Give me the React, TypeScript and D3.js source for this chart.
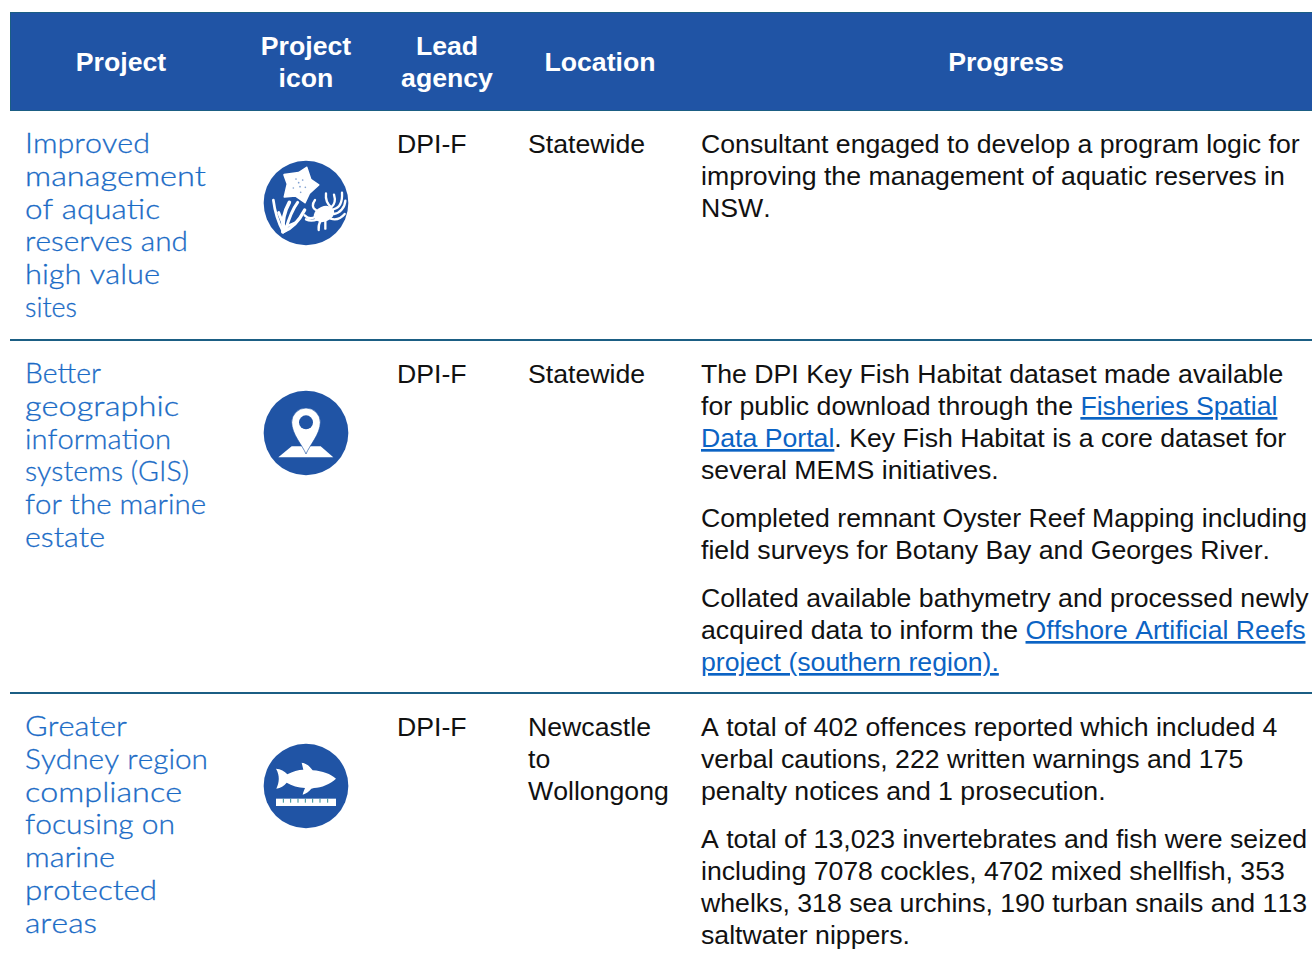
import React, { useEffect, useRef } from "react";
import { select, scaleLinear, scaleOrdinal } from "d3";

const BLUE = "#2054a5";
const TEAL = "#1b5e84";
const LINK = "#0b63c4";
const NAME = "#1a6bc6";
const INK = "#111111";

const columns = ["project", "icon", "lead", "location", "progress"];
const headerCentres = [121, 306, 447, 600, 1006];
const headerLabels = [["Project"], ["Project", "icon"], ["Lead", "agency"], ["Location"], ["Progress"]];

const rowTops = [153, 383, 736];
const rowRules = [340, 693];
const iconCentres = [203, 433, 786];
const iconKinds = ["reef", "pin", "fish"];

const projects = [
  ["Improved", "management", "of aquatic", "reserves and", "high value", "sites"],
  ["Better", "geographic", "information", "systems (GIS)", "for the marine", "estate"],
  ["Greater", "Sydney region", "compliance", "focusing on", "marine", "protected", "areas"],
];
// measured width of each name line, the installed face is narrower than the original
const projectWidths = [
  [125, 181, 135, 163, 135, 52],
  [76, 154, 146, 164, 181, 80],
  [102, 183, 157, 150, 90, 132, 72],
];
const agencies = ["DPI-F", "DPI-F", "DPI-F"];
const locations = [["Statewide"], ["Statewide"], ["Newcastle", "to", "Wollongong"]];

// [text, isLink] pieces per line, lines per paragraph, paragraphs per row
type Piece = [string, boolean];
const progress: Piece[][][][] = [
  [
    [
      [["Consultant engaged to develop a program logic for", false]],
      [["improving the management of aquatic reserves in", false]],
      [["NSW.", false]],
    ],
  ],
  [
    [
      [["The DPI Key Fish Habitat dataset made available", false]],
      [["for public download through the ", false], ["Fisheries Spatial", true]],
      [["Data Portal", true], [". Key Fish Habitat is a core dataset for", false]],
      [["several MEMS initiatives.", false]],
    ],
    [
      [["Completed remnant Oyster Reef Mapping including", false]],
      [["field surveys for Botany Bay and Georges River.", false]],
    ],
    [
      [["Collated available bathymetry and processed newly", false]],
      [["acquired data to inform the ", false], ["Offshore Artificial Reefs", true]],
      [["project (southern region).", true]],
    ],
  ],
  [
    [
      [["A total of 402 offences reported which included 4", false]],
      [["verbal cautions, 222 written warnings and 175", false]],
      [["penalty notices and 1 prosecution.", false]],
    ],
    [
      [["A total of 13,023 invertebrates and fish were seized", false]],
      [["including 7078 cockles, 4702 mixed shellfish, 353", false]],
      [["whelks, 318 sea urchins, 190 turban snails and 113", false]],
      [["saltwater nippers.", false]],
    ],
  ],
];

const columnX = scaleOrdinal<string, number>().domain(columns).range([25, 306, 397, 528, 701]);
const bodyLine = scaleLinear().domain([0, 1]).range([0, 32]);
const projectLine = scaleLinear().domain([0, 1]).range([0, 32.75]);

const ReefIcon = () => (
  <g>
    <path
      d="M102 72L146 66L170 50L182 86L206 103L178 128L165 156L137 136L103 139L112 100Z"
      fill="#fff"
      stroke="#fff"
      strokeWidth={5}
      strokeLinejoin="round"
    />
    {[[138, 85], [158, 88], [150, 108], [130, 112], [166, 110], [146, 96], [152, 125]].map(([x, y], i) => (
      <circle key={i} cx={x} cy={y} r={2.5} fill="#7f9fd0" />
    ))}
    <g fill="none" stroke="#fff" strokeLinecap="round">
      <path d="M70 148C74 180 84 215 100 244" strokeWidth={8} />
      <path d="M118 155C104 180 96 210 100 242" strokeWidth={11} />
      <path d="M143 155C128 175 116 205 106 240" strokeWidth={9} />
      <path d="M164 178C150 205 132 232 98 244" strokeWidth={10} />
      <path d="M86 186L102 226" strokeWidth={9} />
      <path d="M140 214L108 228" strokeWidth={7} />
    </g>
    <ellipse cx={222} cy={190} rx={32} ry={23} fill="#fff" transform="rotate(-22 222 190)" />
    <g fill="none" stroke="#fff" strokeWidth={7} strokeLinecap="round">
      <path d="M198 178C186 172 186 160 195 148" />
      <path d="M244 170C232 160 226 145 228 128M244 170C256 160 256 145 252 132" />
      <path d="M250 176C268 172 278 158 276 126" />
      <path d="M252 190C270 188 285 170 286 150" />
      <path d="M242 204C258 209 274 202 284 190" />
      <path d="M196 198C186 205 176 206 164 194" />
      <path d="M202 206C192 210 180 212 168 206" />
      <path d="M212 210C206 220 205 228 206 238" />
      <path d="M226 210L226 234" />
    </g>
  </g>
);

const PinIcon = () => (
  <g>
    <path d="M85 230L125 197H212L250 230Z" fill="#fff" />
    <path
      d="M168 220C158 195 125 160 125 125A43 43 0 0 1 211 125C211 160 178 195 168 220Z"
      fill="#fff"
      stroke={BLUE}
      strokeWidth={2}
    />
    <circle cx={168} cy={125} r={21} fill={BLUE} />
  </g>
);

const rulerTicks = [100, 122, 144, 166, 188, 210, 233];

const FishIcon = () => (
  <g>
    <path
      d="M78 105C92 106 104 113 112 122C128 113 145 108 160 108L155 87C170 89 180 98 188 110C218 112 242 121 258 135C240 151 215 162 192 163L184 165C177 174 168 180 158 183C160 175 162 170 165 163C145 162 125 156 110 147C102 157 92 163 79 165C88 146 90 126 78 105Z"
      fill="#fff"
    />
    <rect x={78} y={195} width={180} height={22} fill="#fff" />
    {rulerTicks.map((x) => (
      <line key={x} x1={x} x2={x} y1={195} y2={207} stroke="#2f8f95" strokeWidth={3} />
    ))}
  </g>
);

const icons: Record<string, () => React.JSX.Element> = { reef: ReefIcon, pin: PinIcon, fish: FishIcon };

export default function App() {
  const projectRef = useRef<SVGGElement>(null);

  useEffect(() => {
    const g = select(projectRef.current);
    g.selectAll("*").remove();
    projects.forEach((lines, r) => {
      g.selectAll(null)
        .data(lines)
        .join("text")
        .attr("x", columnX("project"))
        .attr("y", (_, i) => rowTops[r] + projectLine(i))
        .attr("textLength", (_, i) => projectWidths[r][i])
        .attr("lengthAdjust", "spacingAndGlyphs")
        .attr("font-family", "Lato, sans-serif")
        .attr("font-weight", 300)
        .attr("font-size", 28)
        .attr("fill", NAME)
        .attr("stroke", NAME)
        .attr("stroke-width", 0.3)
        .text((d) => d);
    });
  }, []);

  return (
    <svg
      width={1312}
      height={959}
      style={{ position: "absolute", left: 0, top: 0, display: "block", background: "#fff", fontKerning: "none" }}
      fontFamily="'Liberation Sans', Arial, sans-serif"
      fontSize={26.67}
    >
      <rect x={10.5} y={12.5} width={1302} height={98} fill={BLUE} stroke={TEAL} strokeWidth={1} />
      {headerLabels.map((lines, c) =>
        lines.map((line, i) => (
          <text
            key={`${c}-${i}`}
            x={headerCentres[c]}
            y={(lines.length === 1 ? 71 : 55) + i * 32}
            textAnchor="middle"
            fontWeight={700}
            fill="#fff"
          >
            {line}
          </text>
        ))
      )}

      {rowRules.map((y) => (
        <line key={y} x1={10} x2={1312} y1={y} y2={y} stroke={TEAL} strokeWidth={2} />
      ))}

      <g ref={projectRef} />

      {iconKinds.map((kind, r) => {
        const Icon = icons[kind];
        return (
          <g key={kind} transform={`translate(${columnX("icon")},${iconCentres[r]}) scale(${1 / 3}) translate(-168,-157)`}>
            <circle cx={168} cy={157} r={127} fill={BLUE} />
            <Icon />
          </g>
        );
      })}

      {agencies.map((a, r) => (
        <text key={r} x={columnX("lead")} y={rowTops[r]} fill={INK}>
          {a}
        </text>
      ))}

      {locations.map((lines, r) =>
        lines.map((line, i) => (
          <text key={`${r}-${i}`} x={columnX("location")} y={rowTops[r] + bodyLine(i)} fill={INK}>
            {line}
          </text>
        ))
      )}

      {progress.map((paragraphs, r) => {
        let offset = 0;
        return paragraphs.map((lines, p) => {
          const top = rowTops[r] + offset;
          offset += bodyLine(lines.length) + 16;
          return lines.map((pieces, i) => (
            <text key={`${r}-${p}-${i}`} x={columnX("progress")} y={top + bodyLine(i)} fill={INK} xmlSpace="preserve">
              {pieces.map(([t, isLink], k) => (
                <tspan key={k} fill={isLink ? LINK : INK} textDecoration={isLink ? "underline" : undefined}>
                  {t}
                </tspan>
              ))}
            </text>
          ));
        });
      })}
    </svg>
  );
}
